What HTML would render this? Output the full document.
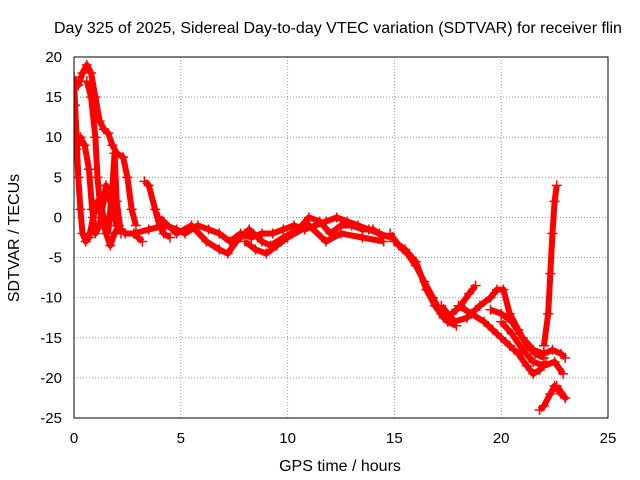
<!DOCTYPE html>
<html><head><meta charset="utf-8"><style>
body{margin:0;background:#fff;}
svg{display:block;font-family:"Liberation Sans",sans-serif;}
</style></head><body>
<svg id="chart" width="640" height="480" viewBox="0 0 640 480">
<text x="54" y="33" font-size="16" fill="#000">Day 325 of 2025, Sidereal Day-to-day VTEC variation (SDTVAR) for receiver flin</text>
<text x="340" y="471" font-size="16" text-anchor="middle">GPS time / hours</text>
<text transform="translate(19,238) rotate(-90)" font-size="16" text-anchor="middle">SDTVAR / TECUs</text>
<g id="grid"></g><g id="ticks"></g>
<g id="series" clip-path="url(#clip)"></g>
<defs><clipPath id="clip"><rect x="74" y="57" width="534" height="361"/></clipPath></defs>
<rect x="74" y="57" width="534" height="361" fill="none" stroke="#000"/>
</svg>
<script>
const xTicks=[0,5,10,15,20,25];
const yTicks=[-25,-20,-15,-10,-5,0,5,10,15,20];
const s1=[[0,17],[0.2,16.5],[0.4,18],[0.6,19],[0.8,18],[1.0,15],[1.2,12],[1.4,11],[1.6,10.5],[1.8,9],[2.0,8],[2.3,7.5],[2.5,5],[2.7,1],[2.9,-1]];
const s2=[[0,17.5],[0.05,14],[0.12,10],[0.2,5],[0.3,1],[0.4,-2],[0.55,-3],[0.7,-2.5],[0.9,0],[1.1,2],[1.3,0],[1.5,-2],[1.7,-3.5],[1.9,-2],[2.1,-1]];
const s3=[[0.1,8.5],[0.3,10],[0.5,9],[0.7,6],[0.85,1],[1.0,-2],[1.2,-1],[1.5,4],[1.7,2],[2.0,-1],[2.4,-2],[2.8,-2],[3.2,-3]];
const s4=[[0.6,17],[0.8,15],[1.0,10],[1.1,5],[1.2,2],[1.4,0],[1.6,-1]];
const s5=[[1.6,-2],[1.8,4],[1.9,8],[2.0,2],[2.2,-2]];
const s6=[[3.3,4.5],[3.5,4],[3.8,1],[4.0,-1],[4.2,-2],[4.5,-2.5]];
const s7=[[2.8,-2],[3.5,-1.5],[4.3,-1],[4.8,-1.5],[5.2,-2],[5.8,-1],[6.3,-1.5],[6.8,-2],[7.3,-3],[7.8,-2],[8.3,-2.5],[8.8,-2],[9.3,-2],[9.8,-1.5],[10.3,-1],[10.8,-1.5],[11.3,-1],[11.8,-0.5],[12.3,0],[12.8,-0.5],[13.3,-1],[13.8,-1.5],[14.3,-2],[14.8,-2.5]];
const s8=[[4,0],[4.8,-2],[5.5,-1],[6.2,-3],[6.8,-4],[7.2,-4.5],[7.6,-3],[8.2,-1.5],[8.8,-3],[9.2,-3.5],[9.8,-2.5],[10.5,-1.5],[11,0],[11.5,-0.5],[12,-2],[12.5,-1],[13,-1],[13.5,-1.5],[14,-1.5],[14.5,-2.5]];
const s9=[[8,-3],[8.5,-4],[9,-4.5],[9.5,-3.5],[10,-2.5],[11,-1],[11.8,-3],[12.5,-2],[13.5,-2.5],[14.5,-3]];
const s10=[[14.8,-2],[15.2,-3.5],[15.6,-4.5],[16,-6],[16.4,-8],[16.8,-10],[17.2,-12],[17.5,-13],[17.9,-13.5]];
const s11=[[15,-3],[15.5,-4],[16,-5.5],[16.5,-9],[16.9,-11],[17.3,-12.5],[17.7,-12],[18.1,-11],[18.5,-9.5],[18.8,-8.5]];
const s12=[[17.2,-11],[17.8,-13],[18.4,-12.5],[19,-11],[19.5,-10],[19.8,-9],[20.1,-9],[20.4,-12],[20.8,-14],[21.2,-16],[21.6,-17],[22,-17.5]];
const s13=[[18,-11],[18.6,-12],[19.2,-13],[19.6,-14],[20,-15],[20.4,-16],[20.8,-17],[21.2,-18.5],[21.5,-19.5],[21.8,-19],[22.1,-18]];
const s14=[[19.5,-11.5],[20,-12],[20.5,-13],[21,-15],[21.5,-16.5],[22,-17],[22.4,-16.5],[22.8,-17],[23,-17.5]];
const s15=[[20,-13],[20.5,-14.5],[21,-16.5],[21.5,-18],[22,-18.5],[22.5,-18],[22.9,-19.5]];
const s16=[[22,-16],[22.2,-12],[22.3,-7],[22.4,-2],[22.5,2],[22.6,4]];
const s17=[[21.8,-24],[22,-23.5],[22.3,-22],[22.5,-21],[22.8,-22],[23,-22.5],[22.6,-21]];
const allSeries=[s1,s2,s3,s4,s5,s6,s7,s8,s9,s10,s11,s12,s13,s14,s15,s16,s17];
const X0=74,X1=608,Y0=418,Y1=57;
const sx=v=>X0+(v-0)/(25-0)*(X1-X0);
const sy=v=>Y0-(v+25)/(45)*(Y0-Y1);
const NS="http://www.w3.org/2000/svg";
const g=document.getElementById('grid'),tk=document.getElementById('ticks'),sg=document.getElementById('series');
function mk(t,a,p){const e=document.createElementNS(NS,t);for(const k in a)e.setAttribute(k,a[k]);p.appendChild(e);return e;}
xTicks.forEach(v=>{const x=sx(v);
 if(v>0&&v<25){const l=mk('line',{x1:x,x2:x,y1:Y0,y2:Y1,stroke:'#999','stroke-dasharray':'1,2'},g);
 
 }
 const t=mk('text',{x:x,y:443,'font-size':15,'text-anchor':'middle'},tk);t.textContent=v;
 
 });
yTicks.forEach(v=>{const y=sy(v);
 if(v>-25&&v<20){const l=mk('line',{x1:X0,x2:X1,y1:y,y2:y,stroke:'#999','stroke-dasharray':'1,2'},g);
 
 }
 const t=mk('text',{x:62,y:y+5,'font-size':15,'text-anchor':'end'},tk);t.textContent=v;
 
 });
allSeries.forEach((s,i)=>{
 const pl=mk('polyline',{points:s.map(p=>sx(p[0])+','+sy(p[1])).join(' '),fill:'none',stroke:'#f00','stroke-width':6,'stroke-linejoin':'round'},sg);
 
 
 let d='';s.forEach(p=>{const x=sx(p[0]),y=sy(p[1]);d+=`M${x-5},${y}h10M${x},${y-5}v10`;});
 const m=mk('path',{d:d,stroke:'#f00','stroke-width':1.5,fill:'none'},sg);
 
 
});
</script>
</body></html>
